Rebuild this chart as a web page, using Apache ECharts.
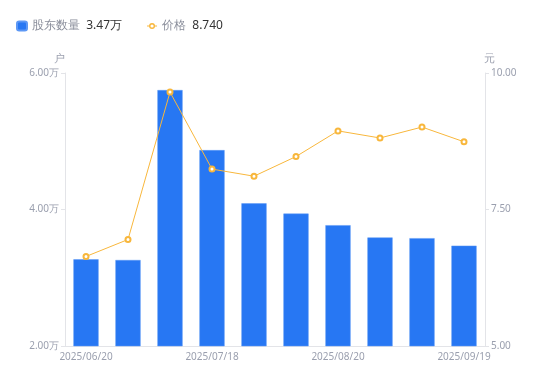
<!DOCTYPE html>
<html><head><meta charset="utf-8">
<script src="https://cdn.jsdelivr.net/npm/echarts@6/dist/echarts.min.js"></script>
<style>html,body{margin:0;padding:0;background:#fff}#c{width:550px;height:381px}</style>
</head><body><div id="c"></div>
<script>
var categories = ['2025/06/20','2025/06/30','2025/07/10','2025/07/18','2025/07/31','2025/08/10','2025/08/20','2025/08/31','2025/09/10','2025/09/19'];
var holders = [32700, 32600, 57500, 48700, 40900, 39400, 37700, 35900, 35800, 34700];
var prices = [6.64, 6.95, 9.65, 8.24, 8.11, 8.47, 8.94, 8.81, 9.01, 8.74];
var leftTicks = [20000, 40000, 60000];
var rightTicks = [5, 7.5, 10];

var chart = echarts.init(document.getElementById('c'));
var font = 'Noto Sans, sans-serif';
var labelColor = '#9a9fae';
var ringIcon = 'path://M0,2.5 L2.2,2.5 L2.2,3.5 L0,3.5 Z M7.8,2.5 L10,2.5 L10,3.5 L7.8,3.5 Z ' +
  'M5,0 A3,3 0 1,1 5,6 A3,3 0 1,1 5,0 Z M5,1.4 A1.6,1.6 0 1,0 5,4.6 A1.6,1.6 0 1,0 5,1.4 Z';
chart.setOption({
  animation: false,
  textStyle: {fontFamily: font},
  legend: {
    left: 11, top: 15, itemWidth: 10, itemHeight: 9, itemGap: 25,
    symbolKeepAspect: true,
    data: [
      {name: '股东数量', icon: 'roundRect', itemStyle: {borderRadius: 1}},
      {name: '价格', icon: ringIcon, itemStyle: {color: '#f8b73c', borderWidth: 0}}
    ],
    formatter: function (n) {
      if (n === '股东数量') return '{a|' + n + '}  {b|' + (holders[holders.length-1]/10000).toFixed(2) + '万}';
      return '{a|' + n + '}  {b|' + prices[prices.length-1].toFixed(3) + '}';
    },
    textStyle: {
      rich: {
        a: {color: '#8a8e9b', fontSize: 12, fontFamily: font},
        b: {color: '#333', fontSize: 12, fontFamily: font}
      }
    }
  },
  grid: {left: 65, right: 65, top: 73, bottom: 35, containLabel: false},
  xAxis: {
    type: 'category', data: categories,
    axisLine: {lineStyle: {color: '#e3e4e8'}},
    axisTick: {show: false},
    axisLabel: {interval: 2, color: labelColor, fontSize: 10, margin: 6}
  },
  yAxis: [{
    type: 'value', name: '户', min: 20000, max: 60000, interval: 20000,
    nameTextStyle: {color: labelColor, fontSize: 11, padding: [0, 0, 0, -12]},
    nameGap: 9,
    axisLine: {show: true, lineStyle: {color: '#e3e4e8'}},
    axisTick: {show: true, length: 4, lineStyle: {color: '#e3e4e8'}},
    splitLine: {show: false},
    axisLabel: {color: labelColor, fontSize: 10, margin: 6,
      formatter: function (v) { return leftTicks.indexOf(v) >= 0 ? (v/10000).toFixed(2) + '万' : ''; }}
  }, {
    type: 'value', name: '元', min: 5, max: 10, interval: 2.5,
    nameTextStyle: {color: labelColor, fontSize: 11, padding: [0, 0, 0, 8]},
    nameGap: 9,
    axisLine: {show: true, lineStyle: {color: '#e3e4e8'}},
    axisTick: {show: true, length: 4, lineStyle: {color: '#e3e4e8'}},
    splitLine: {show: false},
    axisLabel: {color: labelColor, fontSize: 10, margin: 6,
      formatter: function (v) { return rightTicks.indexOf(v) >= 0 ? v.toFixed(2) : ''; }}
  }],
  series: [{
    name: '股东数量', type: 'bar', data: holders, yAxisIndex: 0,
    barWidth: '60%',
    itemStyle: {color: '#2777f3', borderColor: '#5d98f5', borderWidth: 0.5}
  }, {
    name: '价格', type: 'line', data: prices, yAxisIndex: 1,
    symbol: 'emptyCircle', symbolSize: 5,
    lineStyle: {color: '#f8b73c', width: 1},
    itemStyle: {color: '#f8b73c', borderWidth: 1.8}
  }]
});
</script></body></html>
